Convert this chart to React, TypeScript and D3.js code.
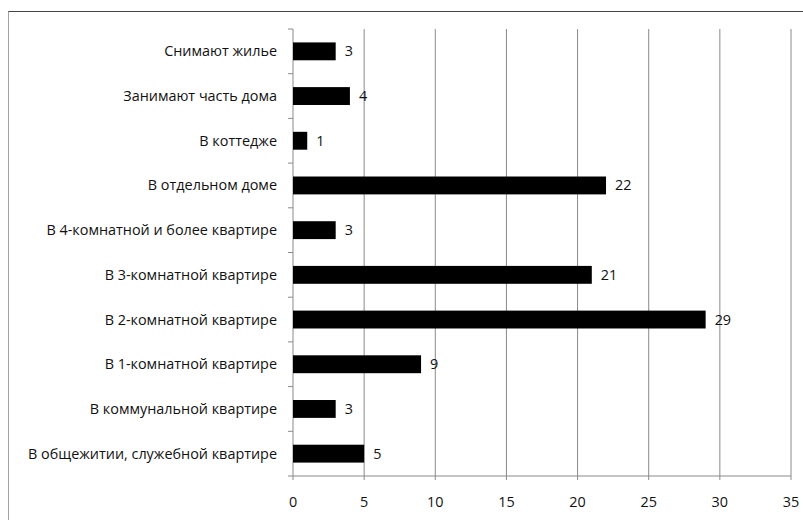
import React from "react";
import * as d3 from "d3";

const categories = [
  "Снимают жилье",
  "Занимают часть дома",
  "В коттедже",
  "В отдельном доме",
  "В 4-комнатной и более квартире",
  "В 3-комнатной квартире",
  "В 2-комнатной квартире",
  "В 1-комнатной квартире",
  "В коммунальной квартире",
  "В общежитии, служебной квартире",
];
const values = [3, 4, 1, 22, 3, 21, 29, 9, 3, 5];
const xTicks = [0, 5, 10, 15, 20, 25, 30, 35];

const W = 803;
const H = 520;
const left = 293;
const right = 791;
const top = 29;
const bottom = 476;
const font = "'Open Sans', sans-serif";
const fs = 14.4;

export default function App() {
  const x = d3.scaleLinear().domain([0, 35]).range([left, right]);
  const y = d3.scaleBand().domain(categories).range([top, bottom]).paddingInner(0.6).paddingOuter(0.3);
  const band = (bottom - top) / categories.length;
  const bounds = d3.range(categories.length + 1).map((i) => top + i * band);

  return (
    <svg width={W} height={H} style={{ position: "absolute", left: 0, top: 0, background: "#fff" }}>
      <rect x={0} y={0} width={W} height={H} fill="#fff" />
      {/* frame */}
      <line x1={8.5} y1={11.5} x2={W} y2={11.5} stroke="#444" strokeWidth={1} />
      <line x1={8.5} y1={11.5} x2={8.5} y2={H} stroke="#444" strokeWidth={1} strokeDasharray="1,1" />
      {/* gridlines */}
      {xTicks.map((t) => (
        <line key={"g" + t} x1={x(t)} x2={x(t)} y1={top} y2={bottom + 4} stroke="#8a8a8a" strokeWidth={1} />
      ))}
      {/* axes */}
      <line x1={left} x2={right} y1={bottom} y2={bottom} stroke="#8a8a8a" strokeWidth={1} />
      {bounds.map((b, i) => (
        <line key={"yt" + i} x1={left - 5} x2={left} y1={b} y2={b} stroke="#8a8a8a" strokeWidth={1} />
      ))}
      {/* bars */}
      {categories.map((c, i) => (
        <rect key={"b" + c} x={x(0)} y={y(c)!} width={x(values[i]) - x(0)} height={y.bandwidth()} fill="#000" />
      ))}
      {/* value labels */}
      {categories.map((c, i) => (
        <text key={"v" + c} x={x(values[i]) + 9} y={y(c)! + y.bandwidth() / 2} dy="0.35em" fontFamily={font} fontSize={fs} fill="#111">
          {values[i]}
        </text>
      ))}
      {/* category labels */}
      {categories.map((c) => (
        <text key={"c" + c} x={left - 16} y={y(c)! + y.bandwidth() / 2} dy="0.35em" textAnchor="end" fontFamily={font} fontSize={fs} fill="#111">
          {c}
        </text>
      ))}
      {/* x tick labels */}
      {xTicks.map((t) => (
        <text key={"xt" + t} x={x(t)} y={502} dy="0.35em" textAnchor="middle" fontFamily={font} fontSize={fs} fill="#111">
          {t}
        </text>
      ))}
    </svg>
  );
}
